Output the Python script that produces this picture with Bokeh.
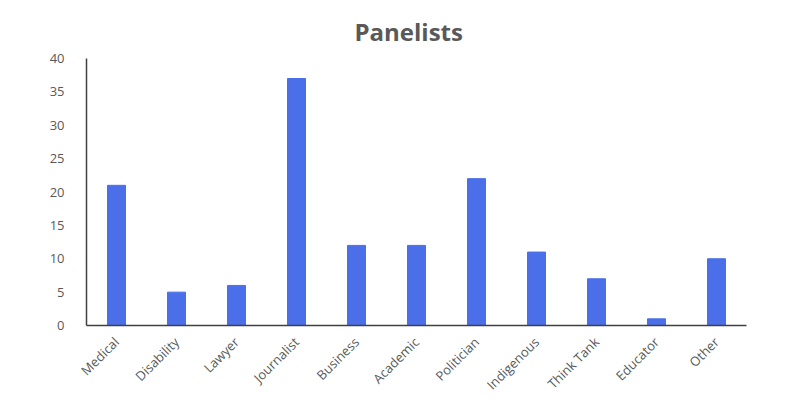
from bokeh.plotting import figure
from bokeh.models import ColumnDataSource, Range1d, FixedTicker, Title
from bokeh.embed import file_html
from bokeh.resources import INLINE
import math

categories = ["Medical", "Disability", "Lawyer", "Journalist", "Business", "Academic",
              "Politician", "Indigenous", "Think Tank", "Educator", "Other"]
counts = [21, 5, 6, 37, 12, 12, 22, 11, 7, 1, 10]
y_ticks = [0, 5, 10, 15, 20, 25, 30, 35, 40]

src = ColumnDataSource(data=dict(cat=categories, val=counts))

p = figure(x_range=categories, y_range=Range1d(0, 40), width=800, height=407,
           output_backend="svg", toolbar_location=None,
           min_border_left=86, min_border_right=54, min_border_top=58, min_border_bottom=82)
p.title = None
t = Title(text="Panelists", align="left", offset=268, text_font="Open Sans",
          text_font_size="24px", text_font_style="bold", text_color="#595959",
          standoff=22)
p.add_layout(t, "above")

p.vbar(x="cat", top="val", width=0.3, source=src, color="#4a6fe8")

p.outline_line_color = None
p.xgrid.grid_line_color = None
p.ygrid.grid_line_color = None
p.x_range.range_padding = 0.0

for ax in (p.xaxis, p.yaxis):
    ax.axis_line_color = "#404040"
    ax.axis_line_width = 1.5
    ax.major_tick_line_color = None
    ax.minor_tick_line_color = None
    ax.major_label_text_font = "Open Sans"
    ax.major_label_text_font_size = "13px"
    ax.major_label_text_color = "#595959"

p.yaxis.ticker = FixedTicker(ticks=y_ticks)
p.yaxis.major_label_standoff = 16
p.xaxis.major_label_orientation = math.pi / 4
p.xaxis.major_label_standoff = 8

open("out.html", "w").write(file_html(p, INLINE))
